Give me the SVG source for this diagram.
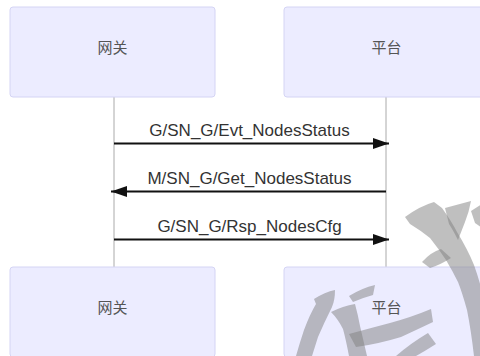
<svg xmlns="http://www.w3.org/2000/svg" width="480" height="356" viewBox="0 0 480 356">
<style>
.actor{fill:#ECECFF;stroke:#D4D4F4;stroke-width:1}
.alabel{font-family:"Noto Sans CJK SC","Liberation Sans",sans-serif;font-size:15px;fill:#555;text-anchor:middle}
.life{stroke:#AAAAAA;stroke-width:1}
.msg{stroke:#111;stroke-width:2;fill:none}
.mlabel{font-family:"Liberation Sans",Arial,sans-serif;font-size:17px;fill:#333;text-anchor:middle}
.wm{fill:#808080;fill-opacity:0.5;stroke:none}
</style>
<defs>
<marker id="ah" markerWidth="16" markerHeight="11" refX="16" refY="5.5" orient="auto" markerUnits="userSpaceOnUse">
<path d="M0,0 L16,5.5 L0,11 Z" fill="#111"/>
</marker>
</defs>
<rect width="480" height="356" fill="#FFFFFF"/>
<g id="lifelines">
<line class="life" x1="114" y1="97" x2="114" y2="267"/>
<line class="life" x1="386" y1="97" x2="386" y2="267"/>
</g>
<g id="actor-gw-top">
<rect class="actor" x="10" y="7" width="205" height="90" rx="3"/>
<text class="alabel" x="112.5" y="53">网关</text>
</g>
<g id="actor-pf-top">
<rect class="actor" x="284" y="7" width="205" height="90" rx="3"/>
<text class="alabel" x="386.5" y="53">平台</text>
</g>
<g id="actor-gw-bottom">
<rect class="actor" x="10" y="267" width="205" height="90" rx="3"/>
<text class="alabel" x="112.5" y="313">网关</text>
</g>
<g id="actor-pf-bottom">
<rect class="actor" x="284" y="267" width="205" height="90" rx="3"/>
<text class="alabel" x="386.5" y="313">平台</text>
</g>
<g id="connectors">
<line class="msg" x1="114" y1="143.5" x2="389" y2="143.5" marker-end="url(#ah)"/>
<text class="mlabel" x="249.5" y="136">G/SN_G/Evt_NodesStatus</text>
<line class="msg" x1="386" y1="191.5" x2="111" y2="191.5" marker-end="url(#ah)"/>
<text class="mlabel" x="249.5" y="184">M/SN_G/Get_NodesStatus</text>
<line class="msg" x1="114" y1="239.5" x2="389" y2="239.5" marker-end="url(#ah)"/>
<text class="mlabel" x="249.5" y="231.5">G/SN_G/Rsp_NodesCfg</text>
</g>
<g id="watermark">
<path class="wm" d="M405,217 Q420,206 434,202 L442,208 Q452,222 457,232 Q468,250 474,265 Q480,282 482,292 L482,356 L474,356 Q471,330 467,310 Q462,292 458,282 Q452,270 446,260 Q438,248 430,238 Q420,230 410,224 Z"/>
<path class="wm" d="M445,208 L471,201 Q469,212 465,222 L458,240 Q453,230 449,224 Z"/>
<path class="wm" d="M471,211 L482,204 L482,228 L475,223 Z"/>
<path class="wm" d="M422,262 Q431,252 441,249 L451,258 Q440,265 430,268 Z"/>
<path class="wm" d="M314,299 Q325,292 335,290 Q335,300 332,307 Q324,323 318,337 L312,356 L296,356 Q300,342 304,330 Q310,314 316,304 Z"/>
<path class="wm" d="M331,312 Q343,306 355,304 Q358,315 360,326 L367,356 L349,356 Q346,340 343,329 Q338,319 331,312 Z"/>
<path class="wm" d="M349,334 Q371,328 390,323 Q412,317 431,309 L433,322 Q414,331 401,337 Q378,344 356,347 Z"/>
<path class="wm" d="M349,296 Q362,288 375,285 L373,295 Q362,298 353,302 Z"/>
<path class="wm" d="M396,356 Q411,343 428,333 L436,344 Q425,351 416,356 Z"/>
</g>
</svg>
